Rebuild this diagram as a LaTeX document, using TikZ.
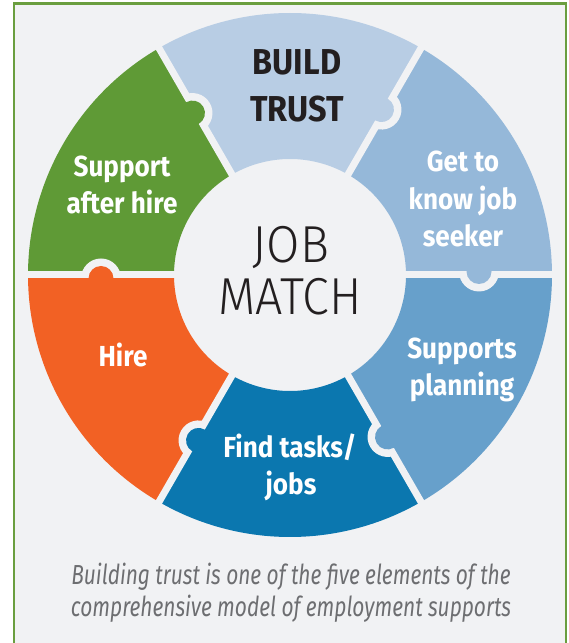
\documentclass[tikz,border=0pt]{standalone}
\usepackage{fontspec}
\setmainfont{Fira Sans}
\newfontfamily\labelfont{Fira Sans}[FakeStretch=0.9]
\newfontfamily\lightfont{Fira Sans Light}[FakeStretch=0.93]
\newfontfamily\capfont{Fira Sans}[FakeStretch=0.76]
\definecolor{bgc}{HTML}{F1F2F4}
\definecolor{framec}{HTML}{6A9E3F}
\definecolor{trustc}{HTML}{B8CDE4}
\definecolor{getc}{HTML}{95B8D9}
\definecolor{planc}{HTML}{67A0CB}
\definecolor{findc}{HTML}{0B77AF}
\definecolor{hirec}{HTML}{F26124}
\definecolor{afterc}{HTML}{5F9A36}
\definecolor{darktext}{HTML}{231F20}
\definecolor{captext}{HTML}{6D6E71}
\tikzset{
  lbl/.style={text=white, inner sep=0pt, anchor=base, font=\labelfont\bfseries\fontsize{29}{35}\selectfont},
  trustlbl/.style={text=darktext, inner sep=0pt, anchor=base, font=\labelfont\bfseries\fontsize{36}{42}\selectfont},
  matchlbl/.style={text=darktext, inner sep=0pt, anchor=base, font=\lightfont\fontsize{52}{60}\selectfont},
  caplbl/.style={text=captext, inner sep=0pt, anchor=base, font=\capfont\itshape\fontsize{27.5}{32}\selectfont},
  gapline/.style={draw=bgc, line width=7pt}
}
\begin{document}
\begin{tikzpicture}[x=1pt,y=1pt]
\useasboundingbox (0,0) rectangle (568,643);
\clip (0,0) rectangle (568,643);
\fill[white] (0,0) rectangle (568,643);
\fill[bgc] (14,-10) rectangle (566,639.5);
\draw[framec, line width=2.5pt] (14,-10) rectangle (566,639.5);
\coordinate (C) at (290,368);
% sectors
\foreach \a/\c in {0/getc, 60/trustc, 120/afterc, 180/hirec, 240/findc, 300/planc}{
  \fill[\c, shift={(C)}] (\a:262) arc[start angle=\a, end angle=\a+60, radius=262]
     -- (\a+60:116) arc[start angle=\a+60, end angle=\a, radius=116] -- cycle;
}
% gaps
\foreach \a in {0,60,...,300}{
  \draw[gapline, shift={(C)}] (\a:105) -- (\a:275);
}
% knobs
\foreach \a/\c in {0/getc, 60/trustc, 120/afterc, 180/hirec, 240/findc, 300/planc}{
  \begin{scope}[shift={(C)}, rotate=\a]
    \begin{scope}
      \clip (150,0) rectangle (230,-40);
      \fill[bgc] (189,3.5) circle (20);
    \end{scope}
    \fill[\c] (189,3.5) circle (12.5);
  \end{scope}
}
% labels
\node[trustlbl] (build) at (297,568) {BUILD};
\node[trustlbl] (trust) at (297,521) {TRUST};
\node[lbl] (get1) at (463,471) {Get to};
\node[lbl] (get2) at (463,433.5) {know job};
\node[lbl] (get3) at (463,396) {seeker};
\node[lbl] (plan1) at (462,284) {Supports};
\node[lbl] (plan2) at (462,247) {planning};
\node[lbl] (find1) at (290,185) {Find tasks/};
\node[lbl] (find2) at (291,148) {jobs};
\node[lbl] (hire) at (123,276) {Hire};
\node[lbl] (after1) at (122,466) {Support};
\node[lbl] (after2) at (122,429) {after hire};
\node[matchlbl] (job) at (291,380) {JOB};
\node[matchlbl] (match) at (290,328) {MATCH};
\node[caplbl] (cap1) at (291,58) {Building trust is one of the five elements of the};
\node[caplbl] (cap2) at (291,26) {comprehensive model of employment supports};
\end{tikzpicture}
\end{document}
